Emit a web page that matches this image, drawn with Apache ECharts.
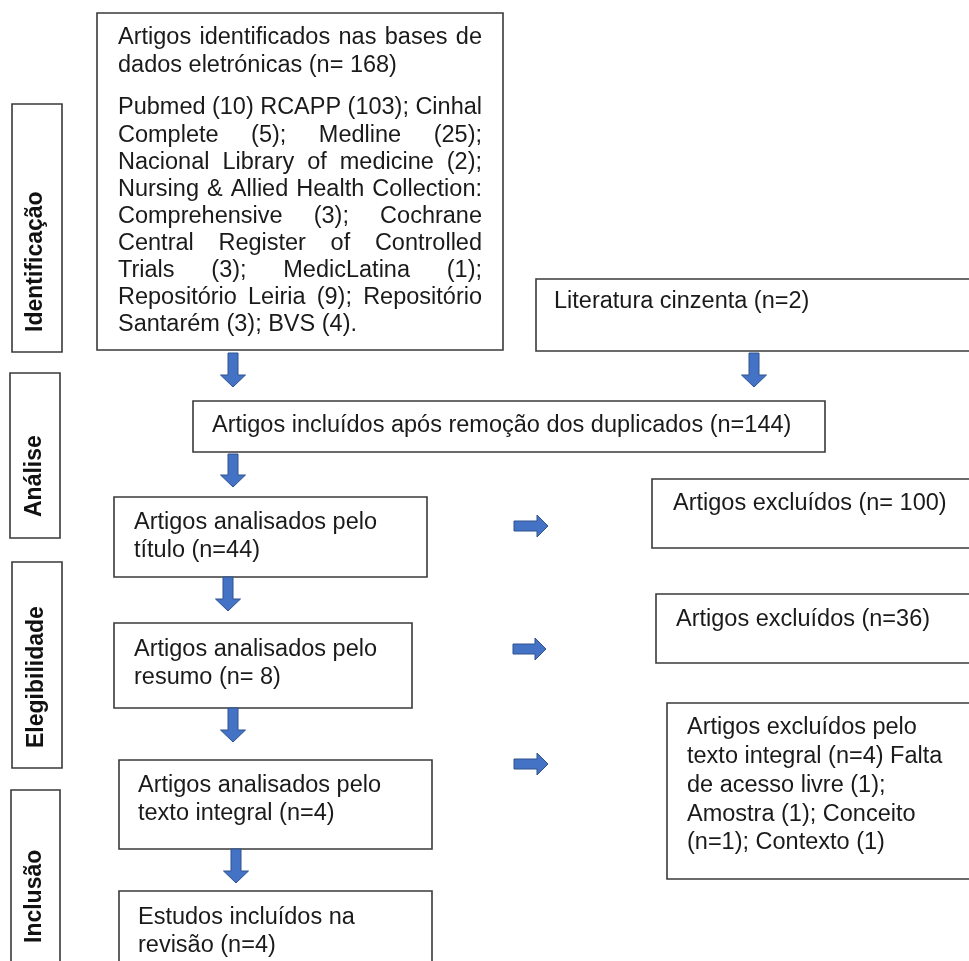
<!DOCTYPE html>
<html><head><meta charset="utf-8">
<script src="https://cdn.jsdelivr.net/npm/echarts@6/dist/echarts.min.js"></script>
<style>html,body{margin:0;padding:0;background:#fff;overflow:hidden}#c{width:969px;height:961px}</style>
</head><body><div id="c"></div>
<script>
// ---- content (texts & counts) ----
const stages = ['Identificação', 'Análise', 'Elegibilidade', 'Inclusão'];
const identifiedTitle = ['Artigos identificados nas bases de', 'dados eletrónicas (n= 168)'];
const identifiedSources = [
  'Pubmed (10) RCAPP (103); Cinhal',
  'Complete (5); Medline (25);',
  'Nacional Library of medicine (2);',
  'Nursing & Allied Health Collection:',
  'Comprehensive (3); Cochrane',
  'Central Register of Controlled',
  'Trials (3); MedicLatina (1);',
  'Repositório Leiria (9); Repositório',
  'Santarém (3); BVS (4).'
];
const greyLiterature = ['Literatura cinzenta (n=2)'];
const afterDuplicates = ['Artigos incluídos após remoção dos duplicados (n=144)'];
const screenedTitle = ['Artigos analisados pelo', 'título (n=44)'];
const screenedAbstract = ['Artigos analisados pelo', 'resumo (n= 8)'];
const screenedFull = ['Artigos analisados pelo', 'texto integral (n=4)'];
const includedStudies = ['Estudos incluídos na', 'revisão (n=4)'];
const excludedTitle = ['Artigos excluídos (n= 100)'];
const excludedAbstract = ['Artigos excluídos (n=36)'];
const excludedFull = ['Artigos excluídos pelo', 'texto integral (n=4) Falta', 'de acesso livre (1);', 'Amostra (1); Conceito', '(n=1); Contexto (1)'];

// ---- layout (positions in page pixels) ----
const W = 969, H = 961;
const FONT = '"Liberation Sans", Arial, sans-serif';
const FS = 23.5;
const stageBoxes = [[12, 104, 62, 352], [10, 373, 60, 538], [12, 562, 62, 768], [11, 790, 60, 985]];
const stageTextPos = [[36, 332], [35, 517], [37, 748], [35, 943]];
const boxes = [
  { rect: [97, 13, 503, 350], x: 118, paras: [
      { lines: identifiedTitle, y: 38, lh: 27.2, justify: 364 },
      { lines: identifiedSources, y: 108, lh: 27.1, justify: 364 }] },
  { rect: [536, 279, 985, 351], x: 554, paras: [{ lines: greyLiterature, y: 302, lh: 28 }] },
  { rect: [193, 401, 825, 452], x: 212, paras: [{ lines: afterDuplicates, y: 426, lh: 28 }] },
  { rect: [114, 497, 427, 577], x: 134, paras: [{ lines: screenedTitle, y: 523, lh: 28 }] },
  { rect: [114, 623, 412, 708], x: 134, paras: [{ lines: screenedAbstract, y: 650, lh: 27.5 }] },
  { rect: [119, 760, 432, 849], x: 138, paras: [{ lines: screenedFull, y: 786, lh: 27.5 }] },
  { rect: [119, 891, 432, 985], x: 138, paras: [{ lines: includedStudies, y: 918, lh: 28 }] },
  { rect: [652, 479, 985, 548], x: 673, paras: [{ lines: excludedTitle, y: 504, lh: 28 }] },
  { rect: [656, 594, 985, 663], x: 676, paras: [{ lines: excludedAbstract, y: 620, lh: 28 }] },
  { rect: [667, 703, 985, 879], x: 687, paras: [{ lines: excludedFull, y: 728, lh: 28.7 }] }
];
const downArrows = [[233, 353, 387], [754, 353, 387], [233, 454, 487], [228, 577, 611], [233, 708, 742], [236, 849, 883]];
const rightArrows = [[514, 548, 526], [513, 546, 649], [514, 548, 764]];

const measureCtx = document.createElement('canvas').getContext('2d');
function textWidth(s, weight) {
  measureCtx.font = (weight || 'normal') + ' ' + FS + 'px ' + FONT;
  return measureCtx.measureText(s).width;
}

const TEXT_COLOR = '#1a1a1a';
const BORDER = '#3a3a3a';
const ARROW_FILL = '#4472C4';
const ARROW_STROKE = '#2F528F';

function txt(x, y, s, extra) {
  return Object.assign({ type: 'text', x: x, y: y,
    style: { text: s, fill: TEXT_COLOR, fontSize: FS, fontFamily: FONT, align: 'left', verticalAlign: 'middle' } }, extra || {});
}

function renderBox(params, api) {
  const b = boxes[api.value(0)];
  const p0 = api.coord([b.rect[0], b.rect[1]]);
  const p1 = api.coord([b.rect[2], b.rect[3]]);
  const children = [{ type: 'rect', shape: { x: p0[0], y: p0[1], width: p1[0] - p0[0], height: p1[1] - p0[1] },
    style: { fill: '#fff', stroke: BORDER, lineWidth: 1.6 } }];
  b.paras.forEach(function (para) {
    para.lines.forEach(function (line, i) {
      const pt = api.coord([b.x, para.y + i * para.lh]);
      const last = i === para.lines.length - 1;
      if (para.justify && !last) {
        const words = line.split(' ');
        const ws = words.map(function (w) { return textWidth(w); });
        const sum = ws.reduce(function (a, c) { return a + c; }, 0);
        const wpx = api.size([para.justify, 0])[0];
        const gap = (wpx - sum) / (words.length - 1);
        let cx = pt[0];
        words.forEach(function (w, k) { children.push(txt(cx, pt[1], w)); cx += ws[k] + gap; });
      } else {
        children.push(txt(pt[0], pt[1], line));
      }
    });
  });
  return { type: 'group', children: children };
}

function renderStage(params, api) {
  const i = api.value(0);
  const r = stageBoxes[i];
  const p0 = api.coord([r[0], r[1]]);
  const p1 = api.coord([r[2], r[3]]);
  const tp = api.coord(stageTextPos[i]);
  return { type: 'group', children: [
    { type: 'rect', shape: { x: p0[0], y: p0[1], width: p1[0] - p0[0], height: p1[1] - p0[1] },
      style: { fill: '#fff', stroke: BORDER, lineWidth: 1.6 } },
    { type: 'text', x: tp[0], y: tp[1], rotation: Math.PI / 2,
      style: { text: stages[i], fill: '#111', fontSize: 23, fontWeight: 'bold', fontFamily: FONT, align: 'left', verticalAlign: 'middle' } }
  ] };
}

function renderDown(params, api) {
  const a = downArrows[api.value(0)];
  const top = api.coord([a[0], a[1]]), bot = api.coord([a[0], a[2]]);
  const cx = top[0], sw = 5, hw = 12.5, hl = 12;
  const pts = [[cx - sw, top[1]], [cx + sw, top[1]], [cx + sw, bot[1] - hl], [cx + hw, bot[1] - hl], [cx, bot[1]],
    [cx - hw, bot[1] - hl], [cx - sw, bot[1] - hl]];
  return { type: 'polygon', shape: { points: pts }, style: { fill: ARROW_FILL, stroke: ARROW_STROKE, lineWidth: 1 } };
}

function renderRight(params, api) {
  const a = rightArrows[api.value(0)];
  const l = api.coord([a[0], a[2]]), r = api.coord([a[1], a[2]]);
  const cy = l[1], sw = 5, hw = 11, hl = 11;
  const pts = [[l[0], cy - sw], [r[0] - hl, cy - sw], [r[0] - hl, cy - hw], [r[0], cy], [r[0] - hl, cy + hw],
    [r[0] - hl, cy + sw], [l[0], cy + sw]];
  return { type: 'polygon', shape: { points: pts }, style: { fill: ARROW_FILL, stroke: ARROW_STROKE, lineWidth: 1 } };
}

const chart = echarts.init(document.getElementById('c'), null, { renderer: 'canvas' });
chart.setOption({
  backgroundColor: '#fff',
  animation: false,
  grid: { left: 0, right: 0, top: 0, bottom: 0 },
  xAxis: { type: 'value', min: 0, max: W, show: false },
  yAxis: { type: 'value', min: 0, max: H, inverse: true, show: false },
  series: [
    { type: 'custom', clip: false, renderItem: renderStage, data: stages.map(function (s, i) { return [i]; }) },
    { type: 'custom', clip: false, renderItem: renderBox, data: boxes.map(function (b, i) { return [i]; }) },
    { type: 'custom', clip: false, renderItem: renderDown, data: downArrows.map(function (a, i) { return [i]; }) },
    { type: 'custom', clip: false, renderItem: renderRight, data: rightArrows.map(function (a, i) { return [i]; }) }
  ]
});
</script>
</body></html>
